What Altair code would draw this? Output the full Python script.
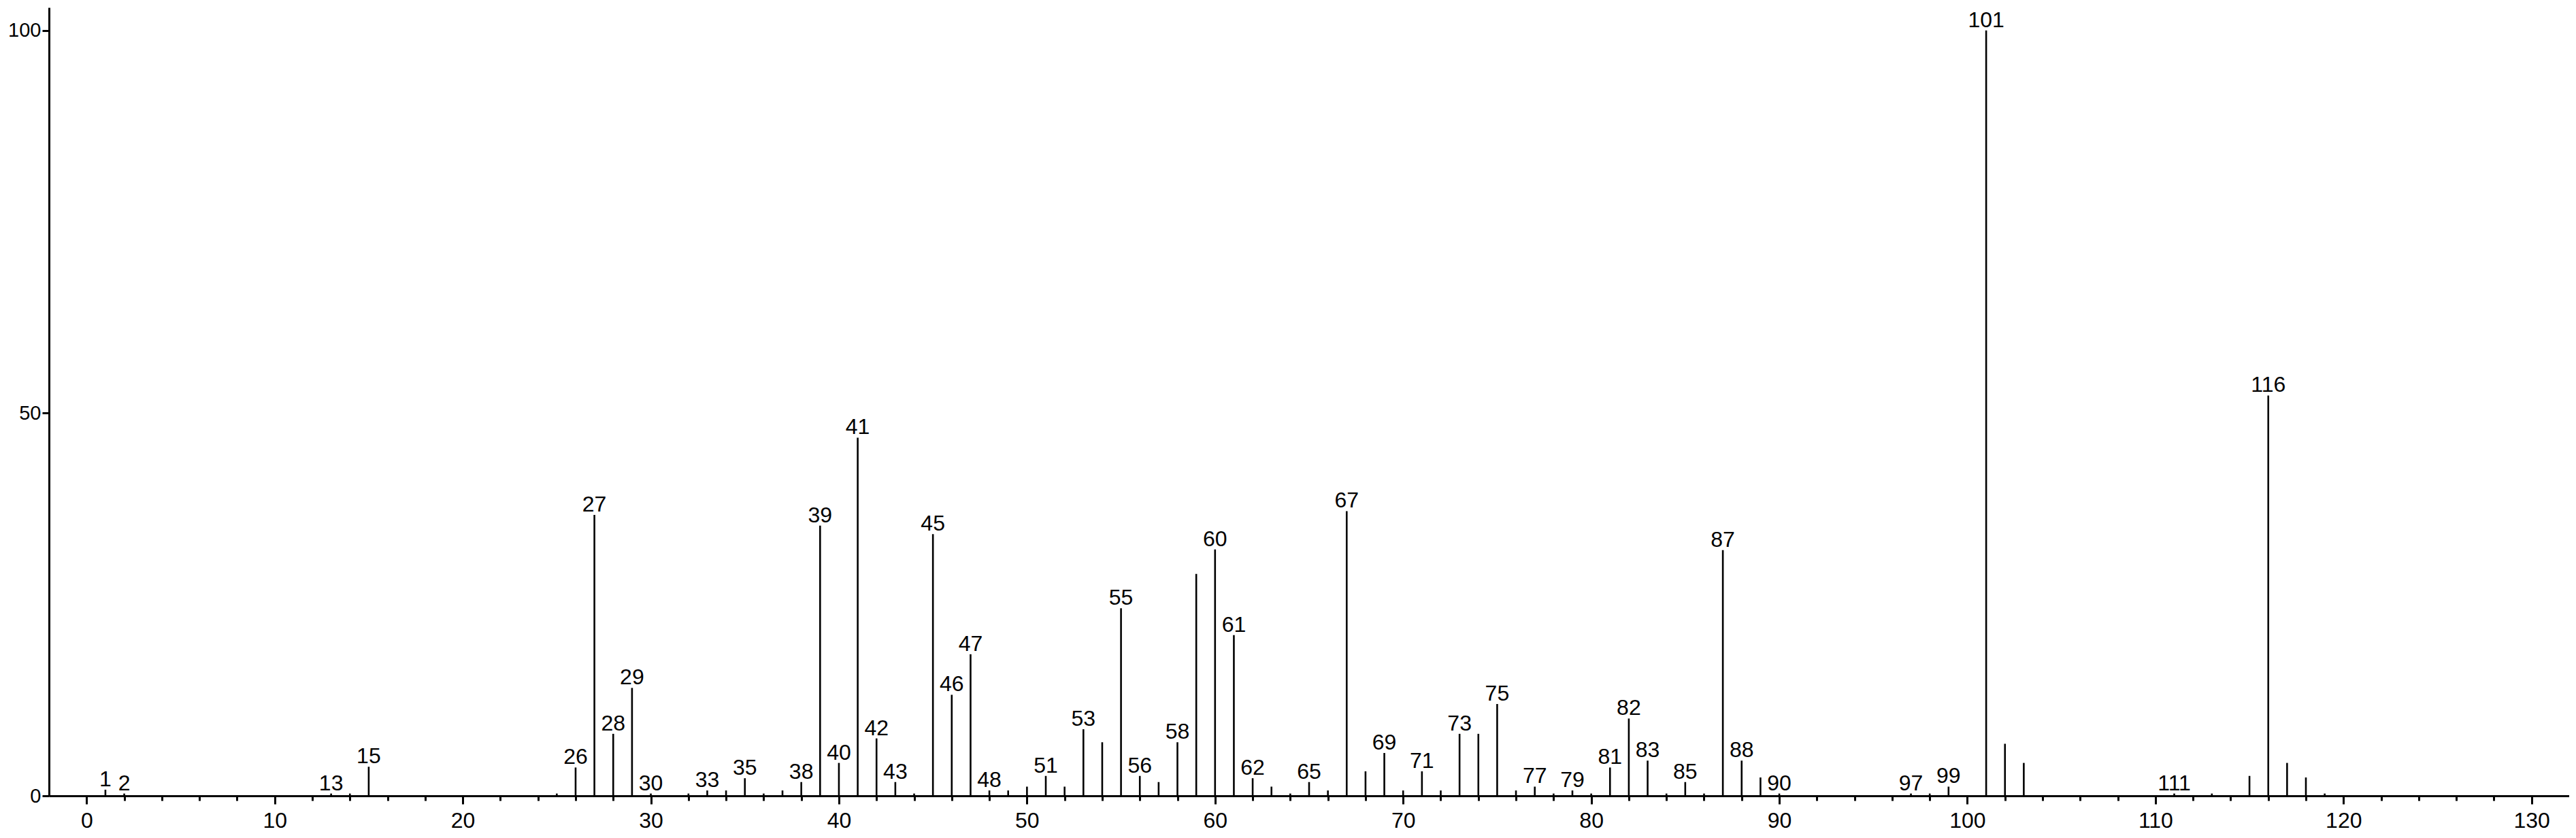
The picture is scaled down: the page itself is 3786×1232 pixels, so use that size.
import altair as alt
import pandas as pd

# m/z positions of peaks
mz = [1, 2, 13, 14, 15, 25, 26, 27, 28, 29, 30, 32, 33, 34, 35, 36, 37, 38, 39, 40,
      41, 42, 43, 44, 45, 46, 47, 48, 49, 50, 51, 52, 53, 54, 55, 56, 57, 58, 59, 60,
      61, 62, 63, 64, 65, 66, 67, 68, 69, 70, 71, 72, 73, 74, 75, 76, 77, 78, 79, 80,
      81, 82, 83, 84, 85, 86, 87, 88, 89, 90, 97, 98, 99, 101, 102, 103, 111, 113,
      115, 116, 117, 118, 119]

# relative intensities (%)
intensity = [0.8, 0.3, 0.3, 0.3, 3.8, 0.3, 3.7, 36.7, 8.1, 14.1, 0.3, 0.3, 0.7, 0.7, 2.3, 0.3, 0.7, 1.8, 35.3, 4.3,
             46.8, 7.5, 1.8, 0.3, 34.2, 13.2, 18.5, 0.7, 0.7, 1.2, 2.6, 1.2, 8.7, 7.0, 24.5, 2.6, 1.8, 7.0, 29.0, 32.2,
             21.0, 2.3, 1.2, 0.3, 1.8, 0.7, 37.2, 3.2, 5.6, 0.7, 3.2, 0.7, 8.1, 8.1, 12.0, 0.7, 1.2, 0.3, 0.7, 0.3,
             3.7, 10.1, 4.6, 0.3, 1.8, 0.3, 32.1, 4.6, 2.4, 0.3, 0.3, 0.3, 1.2, 100.0, 6.8, 4.3, 0.3, 0.3,
             2.6, 52.3, 4.3, 2.4, 0.3]

# peaks carrying a text label
labeled_mz = [1, 2, 13, 15, 26, 27, 28, 29, 30, 33, 35, 38, 39, 40, 41, 42, 43, 45, 46, 47,
              48, 51, 53, 55, 56, 58, 60, 61, 62, 65, 67, 69, 71, 73, 75, 77, 79, 81, 82, 83,
              85, 87, 88, 90, 97, 99, 101, 111, 116]

x_ticks = list(range(0, 132, 2))
y_ticks = [0, 50, 100]

df = pd.DataFrame({"mz": mz, "intensity": intensity})
df["label"] = df["mz"].astype(str)
lab = df[df["mz"].isin(labeled_mz)]

FONT = "Liberation Sans"

xscale = alt.Scale(domain=[-2, 132], nice=False, zero=False)
yscale = alt.Scale(domain=[0, 103], nice=False)

xaxis = alt.Axis(
    values=x_ticks,
    labelExpr="datum.value % 10 === 0 ? datum.label : ''",
    tickSize={"condition": {"test": "datum.value % 10 === 0", "value": 12}, "value": 7},
    labelPadding=9,
    labelFontSize=32,
    labelFont=FONT,
    labelOverlap=False,
    labelFlush=False,
    title=None,
    grid=False,
)
yaxis = alt.Axis(
    values=y_ticks,
    tickSize=10,
    labelPadding=2,
    labelFontSize=29,
    labelFont=FONT,
    labelOverlap=False,
    labelFlush=False,
    title=None,
    grid=False,
)

peaks = alt.Chart(df).mark_rule(color="black", strokeWidth=2.6).encode(
    x=alt.X("mz:Q", scale=xscale, axis=xaxis),
    y=alt.Y("intensity:Q", scale=yscale, axis=yaxis),
    y2=alt.datum(0),
)

labels = alt.Chart(lab).mark_text(
    baseline="alphabetic", align="center", dy=-5, fontSize=32, font=FONT, color="black"
).encode(
    x=alt.X("mz:Q", scale=xscale),
    y=alt.Y("intensity:Q", scale=yscale),
    text="label:N",
)

chart = (
    alt.layer(peaks, labels)
    .properties(
        width=3704,
        height=1159,
        padding={"left": 64, "top": 3, "right": 0, "bottom": 54},
        autosize=alt.AutoSizeParams(type="none"),
        background="white",
    )
    .configure_view(stroke=None)
    .configure_axis(
        domainColor="black",
        domainWidth=3,
        tickColor="black",
        tickWidth=3,
        labelColor="black",
    )
)

chart.save("out.html", embed_options={"renderer": "svg", "actions": False})
